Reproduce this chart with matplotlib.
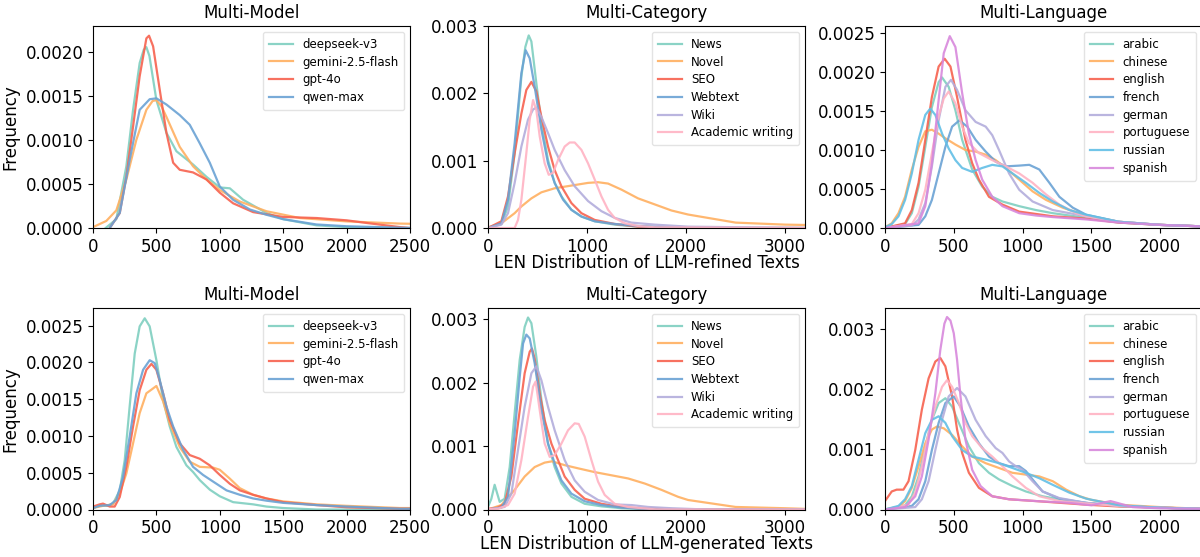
import matplotlib
matplotlib.use("Agg")
import matplotlib.pyplot as plt

# ---------------- colours ----------------
TEAL = "#7fcfc0"
ORANGE = "#ffb061"
RED = "#f7624f"
BLUE = "#6aa2d4"
LAVENDER = "#b3addc"
PINK = "#ffb3c3"
SKY = "#62bfe6"
ORCHID = "#d888dc"

MODEL_LABELS = ["deepseek-v3", "gemini-2.5-flash", "gpt-4o", "qwen-max"]
MODEL_COLORS = [TEAL, ORANGE, RED, BLUE]
CATEGORY_LABELS = ["News", "Novel", "SEO", "Webtext", "Wiki", "Academic writing"]
CATEGORY_COLORS = [TEAL, ORANGE, RED, BLUE, LAVENDER, PINK]
LANGUAGE_LABELS = ["arabic", "chinese", "english", "french", "german",
                   "portuguese", "russian", "spanish"]
LANGUAGE_COLORS = [TEAL, ORANGE, RED, BLUE, LAVENDER, PINK, SKY, ORCHID]

# ---------------- data: refined texts (top row) ----------------
refined_model = {
    "deepseek-v3": (
        [100, 184, 263, 316, 368, 400, 421, 445, 500, 579, 658, 789, 895, 1000, 1079, 1184, 1368, 1500, 1763, 2000, 2500],
        [0.0, 0.0001, 0.0007, 0.00134, 0.00187, 0.00202, 0.00205, 0.00195, 0.00145, 0.00108, 0.00087, 0.00072, 0.00058, 0.00046, 0.00045, 0.00032, 0.00017, 0.0001, 0.00003, 0.00001, 0.0]),
    "gemini-2.5-flash": (
        [0, 105, 184, 263, 342, 421, 470, 500, 540, 579, 684, 789, 895, 1000, 1158, 1368, 1632, 2000, 2421, 2500],
        [0.00001, 0.00008, 0.0002, 0.00055, 0.001, 0.00134, 0.00144, 0.00145, 0.00138, 0.00126, 0.00092, 0.0007, 0.00055, 0.00043, 0.0003, 0.00019, 0.000113, 0.000075, 0.00005, 0.000048]),
    "gpt-4o": (
        [132, 211, 263, 316, 368, 421, 442, 474, 526, 579, 632, 684, 789, 895, 1000, 1105, 1263, 1500, 1763, 2000, 2158, 2421, 2500],
        [0.0, 0.00017, 0.00058, 0.00115, 0.00172, 0.00215, 0.00218, 0.00206, 0.00157, 0.00108, 0.00074, 0.00066, 0.00063, 0.00055, 0.0004, 0.00028, 0.00018, 0.000125, 0.000113, 0.000087, 0.000057, 0.00001, 0.0]),
    "qwen-max": (
        [132, 211, 289, 368, 447, 500, 579, 684, 763, 842, 921, 1000, 1105, 1237, 1368, 1500, 1763, 2000, 2500],
        [0.0, 0.00017, 0.00077, 0.00134, 0.00146, 0.00147, 0.0014, 0.00128, 0.00117, 0.00096, 0.00074, 0.00047, 0.00032, 0.00021, 0.00015, 0.0001, 0.00004, 0.00002, 0.0]),
}

refined_category = {
    "News": (
        [0, 135, 202, 269, 337, 377, 411, 438, 488, 539, 606, 673, 741, 842, 943, 1077, 1279, 1515, 2000, 3200],
        [0.0, 0.00006, 0.00032, 0.00111, 0.00225, 0.00269, 0.00286, 0.00277, 0.00215, 0.00156, 0.00101, 0.00067, 0.00047, 0.00027, 0.00017, 0.0001, 0.00005, 0.00002, 0.0, 0.0]),
    "Novel": (
        [0, 135, 269, 337, 438, 539, 673, 842, 1010, 1111, 1212, 1347, 1515, 1684, 1852, 2020, 2500, 3000, 3200],
        [0.00001, 0.00007, 0.00022, 0.00032, 0.00044, 0.00053, 0.00059, 0.00063, 0.00067, 0.00068, 0.00066, 0.00057, 0.00044, 0.00035, 0.00026, 0.0002, 0.00008, 0.00005, 0.000045]),
    "SEO": (
        [0, 135, 202, 269, 337, 387, 438, 488, 539, 606, 673, 741, 842, 943, 1077, 1279, 1515, 2000, 3200],
        [0.0, 0.0001, 0.00047, 0.00111, 0.0017, 0.00205, 0.00217, 0.00203, 0.00165, 0.00121, 0.00086, 0.00062, 0.00037, 0.00022, 0.00012, 0.00006, 0.00002, 0.0, 0.0]),
    "Webtext": (
        [0, 135, 202, 269, 337, 380, 421, 471, 539, 606, 673, 758, 842, 943, 1077, 1279, 1515, 2000, 3200],
        [0.0, 0.00007, 0.00042, 0.00126, 0.0023, 0.00264, 0.00252, 0.0021, 0.00146, 0.00096, 0.00067, 0.00042, 0.00027, 0.00017, 0.0001, 0.00006, 0.00003, 0.0, 0.0]),
    "Wiki": (
        [0, 135, 202, 269, 337, 404, 455, 488, 539, 606, 673, 774, 875, 1010, 1145, 1279, 1448, 1684, 2020, 3200],
        [0.0, 0.00005, 0.00022, 0.00067, 0.00121, 0.00161, 0.00176, 0.00179, 0.00165, 0.00141, 0.00116, 0.00086, 0.00062, 0.0004, 0.00025, 0.00015, 0.00008, 0.00005, 0.00002, 0.0]),
    "Academic writing": (
        [0, 269, 303, 337, 387, 421, 455, 488, 522, 572, 613, 657, 707, 774, 825, 875, 943, 1010, 1077, 1145, 1212, 1279, 1380, 1515, 1684, 3200],
        [0.0, 0.0, 0.00012, 0.00042, 0.00111, 0.00161, 0.0019, 0.00175, 0.00136, 0.00096, 0.00079, 0.00082, 0.00101, 0.00121, 0.00127, 0.00127, 0.00116, 0.00096, 0.00072, 0.00047, 0.00027, 0.00015, 0.00007, 0.00003, 0.00001, 0.0]),
}

refined_language = {
    "arabic": (
        [0, 146, 195, 244, 293, 341, 390, 415, 463, 512, 561, 634, 707, 780, 854, 976, 1098, 1220, 1463, 1700, 2000, 2320],
        [0.0, 0.00005, 0.00019, 0.00053, 0.00104, 0.00155, 0.00187, 0.00193, 0.00181, 0.00151, 0.00113, 0.00075, 0.00053, 0.0004, 0.00034, 0.00028, 0.00023, 0.00019, 0.00013, 0.00007, 0.00004, 0.00002]),
    "chinese": (
        [0, 49, 98, 146, 195, 244, 293, 341, 390, 439, 512, 585, 659, 732, 805, 878, 976, 1073, 1171, 1293, 1463, 1700, 2000, 2320],
        [0.00001, 0.00006, 0.00019, 0.0004, 0.00075, 0.00104, 0.00124, 0.00126, 0.00121, 0.00115, 0.00107, 0.001, 0.00098, 0.00094, 0.00087, 0.00077, 0.00062, 0.00047, 0.00036, 0.00026, 0.00016, 0.00008, 0.00004, 0.00002]),
    "english": (
        [0, 146, 195, 244, 293, 341, 390, 434, 476, 524, 585, 634, 683, 756, 854, 976, 1098, 1220, 1463, 1700, 2000, 2320],
        [0.0, 0.00006, 0.00023, 0.00058, 0.00113, 0.00168, 0.00207, 0.00217, 0.00207, 0.00168, 0.00113, 0.00083, 0.00062, 0.0004, 0.0003, 0.00021, 0.00018, 0.00015, 0.00012, 0.00007, 0.00004, 0.00002]),
    "french": (
        [0, 244, 293, 341, 390, 439, 488, 541, 598, 659, 732, 805, 878, 976, 1049, 1122, 1195, 1268, 1366, 1463, 1700, 2000, 2320],
        [0.0, 0.00004, 0.00015, 0.00036, 0.0007, 0.00104, 0.0013, 0.00138, 0.0013, 0.00113, 0.00098, 0.00085, 0.00079, 0.0008, 0.00081, 0.00075, 0.00058, 0.0004, 0.00026, 0.00017, 0.00008, 0.00004, 0.00002]),
    "german": (
        [0, 195, 244, 293, 341, 390, 439, 480, 524, 585, 659, 732, 780, 829, 902, 976, 1073, 1220, 1463, 1700, 2000, 2320],
        [0.0, 0.00003, 0.00011, 0.00032, 0.00079, 0.00138, 0.00181, 0.0019, 0.00177, 0.00151, 0.00136, 0.0013, 0.00119, 0.001, 0.0007, 0.00049, 0.00034, 0.00023, 0.00015, 0.00008, 0.00004, 0.00002]),
    "portuguese": (
        [0, 195, 244, 293, 341, 390, 427, 463, 512, 561, 610, 683, 780, 878, 976, 1073, 1171, 1268, 1390, 1463, 1700, 2000, 2320],
        [0.0, 0.00005, 0.00019, 0.00049, 0.00096, 0.00143, 0.00166, 0.00175, 0.0016, 0.0013, 0.00109, 0.00096, 0.00087, 0.00079, 0.0007, 0.00058, 0.00043, 0.0003, 0.00019, 0.00015, 0.00008, 0.00004, 0.00002]),
    "russian": (
        [0, 49, 98, 146, 195, 244, 293, 329, 366, 415, 463, 512, 561, 634, 707, 780, 854, 927, 1024, 1122, 1220, 1341, 1463, 1700, 2000, 2320],
        [0.00001, 0.00005, 0.00015, 0.00036, 0.0007, 0.00113, 0.00145, 0.00153, 0.00145, 0.00121, 0.00102, 0.00087, 0.00077, 0.00072, 0.00077, 0.00081, 0.00079, 0.0007, 0.00058, 0.00045, 0.00034, 0.00023, 0.00017, 0.00008, 0.00004, 0.00002]),
    "spanish": (
        [0, 244, 293, 341, 390, 427, 471, 512, 561, 610, 659, 707, 780, 854, 976, 1098, 1220, 1463, 1700, 2000, 2320],
        [0.0, 0.00006, 0.00028, 0.00083, 0.00164, 0.00224, 0.00246, 0.00232, 0.00173, 0.00121, 0.00087, 0.00062, 0.0004, 0.00028, 0.00019, 0.00016, 0.00014, 0.00011, 0.00007, 0.00004, 0.00002]),
}

# ---------------- data: generated texts (bottom row) ----------------
generated_model = {
    "deepseek-v3": (
        [0, 53, 105, 158, 211, 250, 289, 329, 368, 408, 447, 500, 553, 605, 658, 737, 789, 842, 921, 1000, 1105, 1263, 1368, 1500, 1763, 2500],
        [0.00002, 0.00005, 0.00005, 0.00008, 0.00026, 0.00067, 0.0014, 0.00212, 0.00249, 0.0026, 0.00249, 0.00203, 0.00149, 0.00113, 0.00085, 0.0006, 0.00051, 0.0004, 0.00027, 0.00018, 0.0001, 0.00007, 0.00004, 0.00002, 0.0, 0.0]),
    "gemini-2.5-flash": (
        [0, 79, 158, 211, 263, 316, 368, 421, 461, 500, 553, 605, 684, 763, 842, 947, 1000, 1079, 1158, 1263, 1368, 1500, 1763, 2000, 2421, 2500],
        [0.00002, 0.00005, 0.00007, 0.00022, 0.00049, 0.0009, 0.00131, 0.00158, 0.00163, 0.00168, 0.00147, 0.00117, 0.00085, 0.00065, 0.00058, 0.00057, 0.00054, 0.00042, 0.00029, 0.0002, 0.00015, 0.00011, 0.00007, 0.00005, 0.00002, 0.00002]),
    "gpt-4o": (
        [0, 53, 79, 132, 171, 211, 263, 316, 368, 421, 461, 500, 553, 605, 684, 763, 842, 921, 1000, 1079, 1158, 1263, 1368, 1500, 1763, 2000, 2421, 2500],
        [0.00004, 0.00007, 0.00008, 0.00004, 0.00004, 0.00017, 0.00058, 0.00113, 0.00162, 0.0019, 0.00198, 0.0019, 0.00158, 0.00122, 0.0009, 0.00074, 0.00069, 0.0006, 0.00047, 0.00035, 0.00026, 0.0002, 0.00015, 0.0001, 0.00006, 0.00003, 0.00001, 0.00001]),
    "qwen-max": (
        [0, 53, 132, 184, 237, 289, 342, 395, 447, 487, 526, 579, 632, 711, 789, 868, 947, 1053, 1158, 1263, 1368, 1500, 1763, 2000, 2421, 2500],
        [0.00002, 0.00005, 0.00006, 0.00013, 0.00044, 0.00099, 0.00158, 0.0019, 0.00203, 0.00199, 0.00176, 0.0014, 0.00113, 0.00081, 0.00058, 0.00047, 0.00038, 0.00026, 0.0002, 0.00015, 0.00012, 0.00009, 0.00006, 0.00004, 0.00001, 0.00001]),
}

generated_category = {
    "News": (
        [0, 34, 67, 118, 168, 219, 269, 320, 370, 404, 438, 488, 539, 606, 673, 741, 842, 976, 1145, 1347, 1700, 3200],
        [0.00004, 0.00017, 0.00039, 0.00012, 0.00017, 0.00067, 0.00152, 0.00236, 0.00288, 0.00303, 0.00294, 0.00241, 0.00173, 0.00104, 0.00067, 0.00041, 0.0002, 0.00009, 0.00005, 0.00002, 0.0, 0.0]),
    "Novel": (
        [0, 135, 269, 370, 471, 572, 646, 774, 909, 1077, 1246, 1414, 1582, 1751, 1919, 2020, 2500, 3000, 3200],
        [0.0, 0.00007, 0.00031, 0.00052, 0.00067, 0.00074, 0.00076, 0.0007, 0.00065, 0.00059, 0.00054, 0.00049, 0.00041, 0.00031, 0.0002, 0.00015, 0.00004, 0.00002, 0.00001]),
    "SEO": (
        [0, 101, 168, 236, 303, 370, 421, 444, 471, 522, 572, 640, 707, 774, 875, 976, 1145, 1347, 1515, 2000, 3200],
        [0.00001, 0.00003, 0.00009, 0.00052, 0.00136, 0.00215, 0.00249, 0.00254, 0.00238, 0.00183, 0.00141, 0.00104, 0.00078, 0.00052, 0.00031, 0.00017, 0.00009, 0.00004, 0.00002, 0.0, 0.0]),
    "Webtext": (
        [0, 135, 202, 269, 320, 354, 387, 421, 471, 539, 606, 673, 741, 842, 976, 1145, 1347, 1700, 3200],
        [0.0, 0.00003, 0.0002, 0.0012, 0.00209, 0.00262, 0.00276, 0.0027, 0.00231, 0.00157, 0.00104, 0.00073, 0.00046, 0.00025, 0.00013, 0.00007, 0.00003, 0.0, 0.0]),
    "Wiki": (
        [0, 168, 236, 303, 370, 438, 488, 539, 606, 673, 774, 875, 976, 1111, 1279, 1448, 1616, 1852, 2200, 3200],
        [0.0, 0.00004, 0.00025, 0.00094, 0.00162, 0.00215, 0.00226, 0.00204, 0.00162, 0.00125, 0.00078, 0.00046, 0.00028, 0.00015, 0.00008, 0.00007, 0.00004, 0.00002, 0.0, 0.0]),
    "Academic writing": (
        [0, 101, 202, 269, 337, 404, 455, 481, 522, 572, 623, 673, 741, 808, 875, 916, 976, 1044, 1111, 1178, 1279, 1414, 1700, 3200],
        [0.00001, 0.00001, 0.00007, 0.00025, 0.00078, 0.00146, 0.00194, 0.00202, 0.00157, 0.00104, 0.00083, 0.00086, 0.00104, 0.00125, 0.00136, 0.00135, 0.00115, 0.00078, 0.00044, 0.00023, 0.00009, 0.00004, 0.0, 0.0]),
}

generated_language = {
    "arabic": (
        [0, 146, 195, 244, 293, 341, 390, 439, 488, 537, 610, 683, 756, 829, 927, 1024, 1146, 1268, 1463, 1700, 2000, 2320],
        [0.0, 0.00007, 0.00022, 0.00055, 0.00105, 0.00149, 0.00177, 0.00185, 0.00171, 0.00144, 0.00105, 0.00077, 0.00061, 0.0005, 0.00039, 0.0003, 0.00022, 0.00017, 0.00011, 0.00006, 0.00003, 0.00001]),
    "chinese": (
        [0, 98, 146, 195, 244, 293, 341, 378, 427, 488, 561, 634, 732, 829, 927, 1024, 1122, 1220, 1317, 1415, 1500, 1700, 2000, 2320],
        [0.0, 0.00004, 0.00014, 0.00036, 0.00072, 0.0011, 0.00133, 0.00138, 0.00135, 0.00124, 0.00105, 0.00088, 0.00077, 0.00069, 0.00061, 0.00058, 0.00055, 0.00047, 0.00033, 0.00022, 0.00016, 0.00008, 0.00004, 0.00001]),
    "english": (
        [0, 49, 85, 134, 171, 220, 268, 317, 366, 402, 439, 488, 524, 561, 610, 683, 780, 902, 1098, 1341, 1463, 1700, 2000, 2320],
        [0.00014, 0.0003, 0.00033, 0.00033, 0.00047, 0.00099, 0.00166, 0.00218, 0.00246, 0.00252, 0.00238, 0.00188, 0.00133, 0.00094, 0.00061, 0.00036, 0.00022, 0.00017, 0.00014, 0.0001, 0.00008, 0.00005, 0.00003, 0.00001]),
    "french": (
        [0, 195, 244, 293, 341, 390, 439, 500, 549, 610, 683, 756, 829, 902, 976, 1024, 1073, 1146, 1268, 1463, 1700, 2000, 2320],
        [0.0, 0.00006, 0.00017, 0.00047, 0.00099, 0.00144, 0.00177, 0.00188, 0.00171, 0.00138, 0.0011, 0.00088, 0.00077, 0.00072, 0.00072, 0.00064, 0.0005, 0.0003, 0.00018, 0.00011, 0.00006, 0.00003, 0.00001]),
    "german": (
        [0, 220, 268, 317, 366, 415, 463, 524, 585, 659, 732, 805, 854, 902, 951, 1000, 1073, 1146, 1268, 1463, 1700, 2000, 2320],
        [0.0, 0.00004, 0.00017, 0.00047, 0.00099, 0.00149, 0.00188, 0.00202, 0.00188, 0.00149, 0.00122, 0.00102, 0.00094, 0.0008, 0.00072, 0.00066, 0.00047, 0.0003, 0.00019, 0.00011, 0.00006, 0.00003, 0.00001]),
    "portuguese": (
        [0, 171, 220, 268, 317, 366, 415, 451, 488, 537, 585, 634, 707, 780, 854, 927, 1024, 1122, 1268, 1463, 1700, 2000, 2320],
        [0.0, 0.00008, 0.00028, 0.00072, 0.00127, 0.00171, 0.00204, 0.00215, 0.00204, 0.00177, 0.00144, 0.00122, 0.00102, 0.00088, 0.00072, 0.00055, 0.00036, 0.00022, 0.00014, 0.0001, 0.00006, 0.00003, 0.00001]),
    "russian": (
        [0, 98, 146, 195, 244, 293, 341, 390, 439, 488, 561, 634, 732, 829, 927, 1024, 1122, 1220, 1341, 1463, 1700, 2000, 2320],
        [0.0, 0.00006, 0.00017, 0.00039, 0.00083, 0.00127, 0.00149, 0.00155, 0.00144, 0.00122, 0.00099, 0.00088, 0.00083, 0.00077, 0.00069, 0.00061, 0.00052, 0.00041, 0.00028, 0.00018, 0.00007, 0.00003, 0.00001]),
    "spanish": (
        [0, 146, 220, 268, 317, 366, 402, 432, 451, 476, 500, 524, 549, 585, 634, 695, 780, 902, 1098, 1341, 1500, 1640, 1800, 2000, 2320],
        [0.0, 0.00004, 0.00022, 0.00055, 0.00116, 0.00193, 0.00265, 0.00309, 0.0032, 0.00314, 0.00293, 0.00249, 0.00188, 0.00116, 0.00066, 0.00039, 0.00022, 0.00017, 0.00014, 0.00011, 0.00007, 0.00014, 0.00004, 0.00002, 0.00001]),
}

# ---------------- layout ----------------
W, H = 1200, 557
fig = plt.figure(figsize=(W / 100, H / 100), dpi=100)
plt.rcParams["font.family"] = ["DejaVu Sans"]

lefts = [93, 488, 885]
pw = 317
rows = [(26, 228), (308, 509.5)]

panels = [
    [(refined_model, MODEL_LABELS, MODEL_COLORS, "Multi-Model", 2500, 0.00229, [0, 500, 1000, 1500, 2000, 2500], [0, 0.0005, 0.001, 0.0015, 0.002], "{:.4f}"),
     (refined_category, CATEGORY_LABELS, CATEGORY_COLORS, "Multi-Category", 3200, 0.003, [0, 1000, 2000, 3000], [0, 0.001, 0.002, 0.003], "{:.3f}"),
     (refined_language, LANGUAGE_LABELS, LANGUAGE_COLORS, "Multi-Language", 2305, 0.00259, [0, 500, 1000, 1500, 2000], [0, 0.0005, 0.001, 0.0015, 0.002, 0.0025], "{:.4f}")],
    [(generated_model, MODEL_LABELS, MODEL_COLORS, "Multi-Model", 2500, 0.00274, [0, 500, 1000, 1500, 2000, 2500], [0, 0.0005, 0.001, 0.0015, 0.002, 0.0025], "{:.4f}"),
     (generated_category, CATEGORY_LABELS, CATEGORY_COLORS, "Multi-Category", 3200, 0.00318, [0, 1000, 2000, 3000], [0, 0.001, 0.002, 0.003], "{:.3f}"),
     (generated_language, LANGUAGE_LABELS, LANGUAGE_COLORS, "Multi-Language", 2305, 0.00335, [0, 500, 1000, 1500, 2000], [0, 0.001, 0.002, 0.003], "{:.3f}")],
]
xlabels = ["LEN Distribution of LLM-refined Texts", "LEN Distribution of LLM-generated Texts"]

for r, (top, bot) in enumerate(rows):
    for c, (data, labels, colors, title, xmax, ymax, xt, yt, fmt) in enumerate(panels[r]):
        ax = fig.add_axes([lefts[c] / W, 1 - bot / H, pw / W, (bot - top) / H])
        for lab, col in zip(labels, colors):
            xs, ys = data[lab]
            ax.plot(xs, ys, color=col, lw=1.6, alpha=0.9, label=lab)
        ax.set_xlim(0, xmax)
        ax.set_ylim(0, ymax)
        ax.set_xticks(xt)
        ax.set_yticks(yt)
        ax.set_yticklabels([fmt.format(v) for v in yt])
        ax.tick_params(labelsize=12)
        ax.set_title(title, fontsize=12)
        leg = ax.legend(loc="upper right", fontsize=8.5, labelspacing=0.4,
                        framealpha=0.8, borderpad=0.5)
        leg.get_frame().set_edgecolor("#dddddd")
        if c == 0:
            ax.set_ylabel("Frequency", fontsize=12)
        if c == 1:
            ax.set_xlabel(xlabels[r], fontsize=12, labelpad=-1.5)

fig.savefig("out.png", dpi=100)
